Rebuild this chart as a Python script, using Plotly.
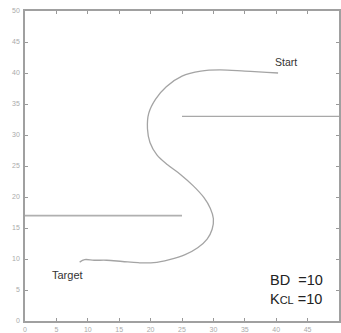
import plotly.graph_objects as go

# Path of the vehicle
path_x = [40.3, 38.5, 35.0, 31.0, 28.0, 25.0, 22.5, 20.8, 19.7, 19.5, 19.9, 21.0, 22.7, 24.8,
          26.8, 28.5, 29.5, 30.0, 29.8, 29.0, 27.5, 25.5, 23.0, 20.5, 18.0, 15.5, 13.0, 11.0,
          9.5, 8.7]
path_y = [40.0, 40.1, 40.3, 40.5, 40.3, 39.5, 37.8, 35.8, 33.5, 31.0, 28.8, 26.8, 25.2, 23.6,
          21.8, 19.9, 18.2, 16.5, 14.8, 13.2, 11.8, 10.7, 9.9, 9.4, 9.4, 9.6, 9.8, 9.8,
          9.9, 9.5]

# Walls
wall1_x = [0, 25]
wall1_y = [17, 17]
wall2_x = [25, 50]
wall2_y = [33, 33]

tick_vals = [0, 5, 10, 15, 20, 25, 30, 35, 40, 45, 50]

fig = go.Figure()
fig.add_trace(go.Scatter(x=wall1_x, y=wall1_y, mode="lines",
                         line=dict(color="#b0b0b0", width=1.6), showlegend=False))
fig.add_trace(go.Scatter(x=wall2_x, y=wall2_y, mode="lines",
                         line=dict(color="#a8a8a8", width=1.3), showlegend=False))
fig.add_trace(go.Scatter(x=path_x, y=path_y, mode="lines", line_shape="spline",
                         line=dict(color="#a4a4a4", width=1.3), showlegend=False))

annots = [
    dict(x=41.6, y=41.7, text="Start", font=dict(size=10.5, color="#333333")),
    dict(x=6.8, y=7.5, text="Target", font=dict(size=11, color="#333333")),
    dict(x=38.7, y=6.6, text="BD  =10", xanchor="left", font=dict(size=14.5, color="#222222")),
    dict(x=38.7, y=3.6, text="K<span style='font-size:11px'>CL</span> =10", xanchor="left",
         font=dict(size=14.5, color="#222222")),
]
for a in annots:
    a.setdefault("xanchor", "center")
    fig.add_annotation(xref="x", yref="y", showarrow=False, **a)

axis_common = dict(
    tickmode="array", tickvals=tick_vals, ticktext=[str(v) for v in tick_vals],
    ticks="inside", ticklen=3, tickcolor="#999999", tickwidth=1,
    showgrid=False, zeroline=False, showline=True, linecolor="#a0a0a0", linewidth=1.5,
    mirror="ticks", tickfont=dict(size=7, color="#aaaaaa", family="Arial"),
    range=[0, 50], fixedrange=True,
)
fig.update_xaxes(**axis_common, ticklabelstandoff=1)
fig.update_yaxes(**axis_common, ticklabelstandoff=2)

fig.update_layout(
    width=341, height=333,
    margin=dict(l=25, r=0, t=11, b=10),
    paper_bgcolor="white", plot_bgcolor="white",
    font=dict(family="Arial"),
    showlegend=False,
)
fig.write_html("out.html")
